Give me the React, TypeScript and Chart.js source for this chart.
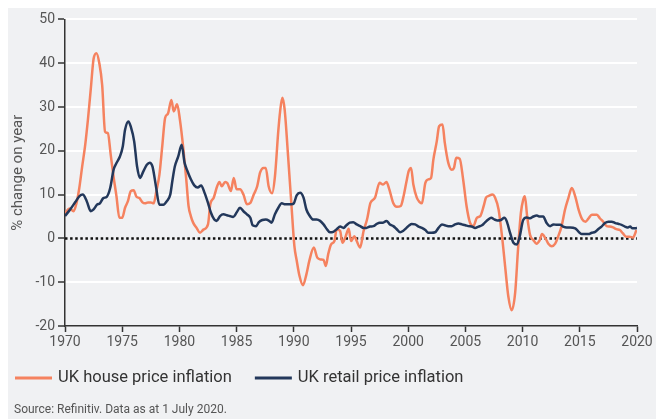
import React, { useEffect, useRef } from "react";
import { Chart, registerables } from "chart.js";

Chart.register(...registerables);

const houseYears = [
  1970.0, 1970.4, 1970.75, 1971.0, 1971.25, 1971.5, 1971.75, 1972.0, 1972.25, 1972.5, 1972.75, 1973.0, 1973.25, 1973.5, 1973.75,
  1974.0, 1974.25, 1974.5, 1974.75, 1975.0, 1975.25, 1975.5, 1975.75, 1976.0, 1976.25, 1976.5, 1976.75, 1977.0, 1977.25, 1977.5,
  1977.75, 1978.0, 1978.25, 1978.5, 1978.75, 1979.0, 1979.3, 1979.5, 1979.8, 1980.05, 1980.35, 1980.6, 1980.8, 1981.0, 1981.2,
  1981.5, 1981.8, 1982.1, 1982.5, 1982.7, 1983.0, 1983.3, 1983.5, 1983.7, 1984.0, 1984.2, 1984.5, 1984.75, 1985.0, 1985.3,
  1985.6, 1985.9, 1986.2, 1986.5, 1986.8, 1987.05, 1987.35, 1987.55, 1987.8, 1988.1, 1988.35, 1988.65, 1988.8, 1989.0, 1989.2,
  1989.5, 1989.8, 1990.05, 1990.25, 1990.5, 1990.8, 1991.1, 1991.35, 1991.75, 1992.05, 1992.35, 1992.6, 1992.8, 1993.0, 1993.25,
  1993.55, 1993.75, 1994.05, 1994.25, 1994.5, 1994.8, 1995.0, 1995.3, 1995.5, 1995.8, 1996.1, 1996.4, 1996.7, 1997.1, 1997.5,
  1997.8, 1998.1, 1998.35, 1998.7, 1999.0, 1999.35, 1999.6, 1999.85, 2000.05, 2000.25, 2000.45, 2000.75, 2001.0, 2001.2, 2001.5,
  2001.8, 2002.0, 2002.2, 2002.5, 2002.7, 2003.0, 2003.2, 2003.5, 2003.8, 2004.0, 2004.2, 2004.5, 2004.8, 2005.1, 2005.4,
  2005.7, 2006.0, 2006.3, 2006.6, 2006.8, 2007.05, 2007.35, 2007.6, 2007.9, 2008.2, 2008.5, 2008.75, 2009.05, 2009.35, 2009.6,
  2009.85, 2010.05, 2010.2, 2010.4, 2010.65, 2010.95, 2011.2, 2011.5, 2011.7, 2012.0, 2012.25, 2012.55, 2012.85, 2013.1, 2013.4,
  2013.7, 2014.0, 2014.3, 2014.6, 2014.9, 2015.2, 2015.5, 2015.75, 2016.05, 2016.3, 2016.5, 2016.75, 2017.05, 2017.35, 2017.6,
  2017.9, 2018.2, 2018.5, 2018.75, 2019.05, 2019.35, 2019.65, 2019.95,
];
const houseValues = [
  5.8, 6.8, 6.2, 8.0, 11.5, 16.4, 21.0, 27.0, 34.0, 41.0, 42.3, 40.0, 35.0, 24.4, 24.0,
  19.0, 14.0, 9.6, 4.7, 4.7, 7.0, 8.5, 10.8, 11.0, 9.5, 9.2, 8.3, 8.0, 8.2, 8.2,
  8.0, 11.0, 14.5, 21.0, 27.5, 28.5, 31.6, 29.0, 30.6, 27.0, 20.3, 13.5, 7.4, 5.1, 3.6,
  2.4, 1.3, 2.0, 3.2, 7.8, 9.3, 11.9, 12.9, 11.9, 12.9, 12.6, 10.8, 13.8, 11.2, 11.2,
  10.0, 7.8, 8.1, 10.0, 11.9, 15.0, 16.1, 16.1, 11.9, 10.3, 14.1, 24.7, 28.9, 32.1, 29.4,
  18.8, 7.4, -1.7, -5.0, -8.6, -10.7, -8.2, -5.2, -2.1, -4.4, -4.8, -4.9, -6.3, -3.7, -1.4,
  -0.6, 2.1, 1.7, -1.0, 0.2, 2.2, -0.6, 0.5, -0.6, -2.1, 1.7, 4.3, 8.1, 9.3, 12.7,
  12.3, 12.9, 11.2, 8.0, 7.2, 7.4, 9.7, 13.0, 15.4, 16.1, 12.3, 9.3, 8.3, 8.0, 12.7,
  13.5, 13.8, 18.0, 22.2, 25.6, 26.0, 21.8, 17.3, 15.7, 16.1, 18.4, 18.2, 13.5, 7.4, 3.6,
  2.8, 4.7, 5.1, 7.4, 9.3, 9.7, 10.0, 9.3, 6.6, 0.5, -7.1, -13.2, -16.4, -12.4, -2.5,
  5.8, 8.8, 9.6, 5.0, 0.8, -0.4, -1.2, -0.4, 1.0, 0.0, -1.2, -1.8, -1.2, 0.4, 2.7,
  6.5, 9.2, 11.5, 9.6, 6.5, 4.4, 3.8, 4.5, 5.4, 5.4, 5.4, 4.6, 3.8, 2.8, 2.7,
  2.5, 2.1, 1.9, 1.2, 0.4, 0.4, 0.2, 1.9,
];

const retailYears = [
  1970.0, 1970.45, 1970.9, 1971.25, 1971.55, 1971.9, 1972.25, 1972.5, 1972.8, 1973.05, 1973.35, 1973.65, 1973.95, 1974.25, 1974.5,
  1974.8, 1975.05, 1975.25, 1975.55, 1975.75, 1976.05, 1976.3, 1976.55, 1976.85, 1977.15, 1977.4, 1977.65, 1977.95, 1978.25, 1978.6,
  1978.9, 1979.2, 1979.4, 1979.6, 1979.9, 1980.2, 1980.45, 1980.7, 1981.0, 1981.3, 1981.6, 1981.9, 1982.2, 1982.5, 1982.75,
  1983.05, 1983.25, 1983.55, 1983.85, 1984.15, 1984.4, 1984.7, 1985.0, 1985.3, 1985.6, 1985.9, 1986.2, 1986.4, 1986.7, 1986.95,
  1987.25, 1987.55, 1987.85, 1988.05, 1988.35, 1988.65, 1988.95, 1989.25, 1989.5, 1989.8, 1990.0, 1990.25, 1990.55, 1990.85, 1991.1,
  1991.4, 1991.7, 1992.0, 1992.3, 1992.6, 1992.9, 1993.15, 1993.45, 1993.75, 1994.05, 1994.35, 1994.6, 1994.9, 1995.2, 1995.5,
  1995.8, 1996.1, 1996.35, 1996.65, 1996.95, 1997.25, 1997.5, 1997.8, 1998.1, 1998.4, 1998.7, 1999.0, 1999.3, 1999.55, 1999.85,
  2000.1, 2000.3, 2000.6, 2000.9, 2001.2, 2001.5, 2001.75, 2002.05, 2002.35, 2002.65, 2002.95, 2003.2, 2003.5, 2003.8, 2004.1,
  2004.4, 2004.7, 2005.0, 2005.25, 2005.55, 2005.85, 2006.15, 2006.45, 2006.7, 2007.0, 2007.25, 2007.55, 2007.8, 2008.1, 2008.4,
  2008.6, 2008.9, 2009.2, 2009.5, 2009.75, 2010.05, 2010.35, 2010.65, 2010.95, 2011.25, 2011.5, 2011.8, 2012.1, 2012.4, 2012.7,
  2013.0, 2013.3, 2013.55, 2013.85, 2014.15, 2014.6, 2014.9, 2015.15, 2015.45, 2015.75, 2016.05, 2016.35, 2016.6, 2016.9, 2017.2,
  2017.5, 2017.8, 2018.1, 2018.4, 2018.65, 2018.95, 2019.15, 2019.4, 2019.6, 2019.9, 2020.0,
];
const retailValues = [
  5.1, 6.6, 8.3, 9.6, 10.0, 8.5, 6.2, 6.6, 7.7, 8.0, 9.2, 9.5, 11.5, 15.7, 17.2,
  18.7, 21.0, 24.8, 26.7, 25.5, 22.1, 16.4, 13.8, 15.3, 16.8, 17.3, 16.4, 11.9, 7.7, 7.7,
  8.5, 10.0, 13.4, 16.4, 18.7, 21.4, 17.3, 15.4, 13.5, 12.1, 11.6, 12.1, 10.4, 8.1, 5.9,
  4.3, 4.0, 5.1, 5.5, 5.3, 5.1, 4.9, 5.9, 7.0, 6.2, 5.5, 4.7, 3.0, 2.8, 3.7,
  4.2, 4.3, 4.0, 3.6, 5.5, 7.0, 8.0, 7.8, 7.8, 7.8, 8.0, 9.8, 10.4, 9.3, 6.6,
  5.1, 4.3, 4.3, 4.0, 3.2, 2.1, 1.4, 1.5, 2.1, 2.7, 2.4, 3.0, 3.6, 3.7, 3.2,
  2.8, 2.4, 2.4, 2.7, 2.8, 3.3, 3.6, 3.6, 4.0, 3.2, 2.8, 2.1, 1.4, 1.7, 2.4,
  3.0, 3.3, 3.2, 2.7, 2.4, 1.9, 1.3, 1.3, 1.4, 2.4, 3.2, 3.0, 2.8, 2.8, 3.2,
  3.4, 3.2, 3.0, 2.8, 2.7, 2.4, 2.7, 3.0, 3.6, 4.3, 4.7, 4.3, 4.1, 4.2, 4.7,
  4.0, 1.3, -1.0, -1.4, 0.5, 4.2, 4.8, 4.6, 5.0, 5.2, 5.0, 5.0, 3.5, 2.8, 3.2,
  3.1, 3.1, 2.7, 2.5, 2.5, 2.3, 1.5, 1.0, 1.0, 1.0, 1.3, 1.5, 2.1, 2.7, 3.5,
  3.8, 3.8, 3.5, 3.3, 3.1, 2.7, 2.5, 2.7, 2.3, 2.3, 2.5,
];

const zeroYears = [1970, 2020];
const zeroValues = [0, 0];

const seriesLabels = ["UK house price inflation", "UK retail price inflation"];
const seriesColors = ["#F5825F", "#23385B"];
const yTitle = "% change on year";
const sourceNote = "Source: Refinitiv. Data as at 1 July 2020.";

const FONT = "Roboto, 'Noto Sans', sans-serif";

const toPoints = (xs: number[], ys: number[]) => xs.map((x, i) => ({ x, y: ys[i] }));

const legendPlugin = {
  id: "customLegend",
  afterDraw(chart: any) {
    const ctx = chart.ctx;
    const area = chart.chartArea;
    const y = area.bottom + 52;
    ctx.save();
    ctx.font = `16.5px ${FONT}`;
    ctx.textBaseline = "middle";
    let x = 7;
    chart.data.datasets.forEach((ds: any) => {
      if (!ds.label) return;
      ctx.strokeStyle = ds.borderColor;
      ctx.lineWidth = 3;
      ctx.beginPath();
      ctx.moveTo(x, y);
      ctx.lineTo(x + 37, y);
      ctx.stroke();
      ctx.fillStyle = "#333";
      ctx.textAlign = "left";
      ctx.fillText(ds.label, x + 43, y);
      x += 43 + ctx.measureText(ds.label).width + 23;
    });
    ctx.font = `12px ${FONT}`;
    ctx.fillStyle = "#555";
    ctx.fillText(sourceNote, 6, area.bottom + 84);
    ctx.restore();
  },
};

export default function App() {
  const ref = useRef<HTMLCanvasElement | null>(null);

  useEffect(() => {
    if (!ref.current) return;
    const chart = new Chart(ref.current, {
      type: "line",
      data: {
        datasets: [
          {
            label: seriesLabels[0],
            data: toPoints(houseYears, houseValues),
            borderColor: seriesColors[0],
            backgroundColor: seriesColors[0],
            borderWidth: 2.5,
            pointRadius: 0,
            tension: 0.3,
            cubicInterpolationMode: "monotone",
            order: 2,
          },
          {
            label: seriesLabels[1],
            data: toPoints(retailYears, retailValues),
            borderColor: seriesColors[1],
            backgroundColor: seriesColors[1],
            borderWidth: 2.5,
            pointRadius: 0,
            tension: 0.3,
            cubicInterpolationMode: "monotone",
            order: 1,
          },
          {
            label: "",
            data: toPoints(zeroYears, zeroValues),
            borderColor: "#111",
            borderWidth: 2.5,
            borderDash: [2.5, 2.6],
            pointRadius: 0,
            order: 3,
          },
        ],
      },
      options: {
        animation: false,
        responsive: false,
        layout: { padding: { top: 11, right: 19, bottom: 63, left: 0 } },
        font: { family: FONT },
        plugins: {
          legend: { display: false },
          tooltip: { enabled: false },
        },
        scales: {
          x: {
            type: "linear",
            min: 1970,
            max: 2020,
            afterFit: (s: any) => {
              s.height = 30;
            },
            afterBuildTicks: (s: any) => {
              const t = [];
              for (let v = 1970; v <= 2020; v += 5) t.push({ value: v });
              s.ticks = t;
            },
            ticks: {
              color: "#555",
              font: { family: FONT, size: 14 },
              padding: 2,
              maxRotation: 0,
              callback: (v: any) => String(v),
            },
            grid: {
              drawOnChartArea: false,
              drawTicks: true,
              tickLength: 6,
              tickColor: "#333",
              tickWidth: 1.5,
            },
            border: { color: "#333", width: 1.5 },
          },
          y: {
            min: -20,
            max: 50,
            afterFit: (s: any) => {
              s.width = 57;
            },
            ticks: {
              stepSize: 10,
              color: "#555",
              font: { family: FONT, size: 14 },
              padding: 3,
            },
            grid: {
              color: (c: any) => (c.tick && (c.tick.value === 0 || c.tick.value === -20) ? "rgba(0,0,0,0)" : "#ffffff"),
              lineWidth: 2,
              drawTicks: true,
              tickLength: 7,
              tickColor: "#333",
              tickWidth: 1.5,
            },
            border: { color: "#333", width: 1.5 },
            title: {
              display: true,
              text: yTitle,
              color: "#555",
              font: { family: FONT, size: 15 },
              padding: { top: 1, bottom: 0 },
            },
          },
        },
      },
      plugins: [legendPlugin],
    });
    return () => chart.destroy();
  }, []);

  return (
    <div style={{ width: 648, height: 411, background: "#f0f1f3" }}>
      <canvas ref={ref} width={648} height={411} style={{ display: "block" }} />
    </div>
  );
}
